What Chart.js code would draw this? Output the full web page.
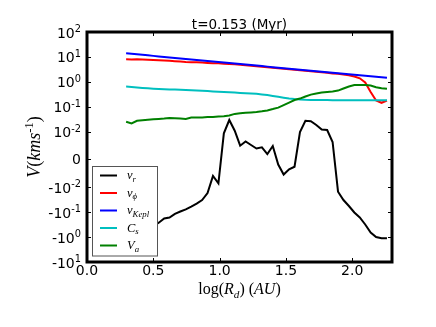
<!DOCTYPE html>
<html>
<head>
<meta charset="utf-8">
<script src="https://cdn.jsdelivr.net/npm/chart.js@4"></script>
<style>
  body { margin: 0; background: #fff; }
</style>
</head>
<body>
<canvas id="chart" width="436" height="327"></canvas>
<script>
// log10(R_d) in AU
var radius = [0.295,0.336,0.377,0.418,0.459,0.500,0.541,0.582,0.622,0.663,0.704,0.745,0.786,0.827,0.868,0.909,0.950,0.991,1.032,1.073,1.114,1.155,1.196,1.237,1.278,1.319,1.360,1.401,1.442,1.483,1.524,1.565,1.606,1.647,1.688,1.729,1.770,1.811,1.852,1.893,1.934,1.975,2.016,2.057,2.098,2.139,2.180,2.221,2.262];

var vR = [-0.754,-0.627,-0.571,-0.434,-0.395,-0.361,-0.265,-0.180,-0.164,-0.117,-0.0944,-0.0771,-0.0596,-0.0452,-0.0327,-0.0171,-0.00597,-0.0086,0.00944,0.0296,0.0110,0.00497,0.00648,0.00522,0.00396,0.00439,0.00197,0.00486,-0.00182,-0.00543,-0.00355,-0.00261,0.00991,0.0275,0.0263,0.0187,0.0123,0.0118,0.0063,-0.0152,-0.0327,-0.0569,-0.1035,-0.164,-0.313,-0.656,-0.995,-1.12,-1.12];

var vPhi = [8.03,7.94,8.01,7.93,7.77,7.62,7.41,7.19,7.00,6.79,6.54,6.30,6.18,6.06,5.94,5.77,5.61,5.55,5.39,5.23,5.04,4.90,4.67,4.47,4.26,4.06,3.87,3.69,3.52,3.36,3.21,3.06,2.91,2.78,2.66,2.54,2.41,2.30,2.19,2.10,1.96,1.84,1.63,1.39,0.944,0.393,0.179,0.145,0.179];

var vKepl = [13.96,13.32,12.71,12.12,11.56,11.03,10.52,10.03,9.57,9.13,8.71,8.31,7.93,7.56,7.21,6.88,6.56,6.26,5.97,5.69,5.43,5.18,4.94,4.72,4.50,4.29,4.09,3.90,3.72,3.55,3.39,3.23,3.08,2.94,2.81,2.68,2.55,2.43,2.32,2.22,2.11,2.02,1.92,1.83,1.75,1.67,1.59,1.52,1.45];

var cS = [0.647,0.624,0.601,0.574,0.552,0.532,0.518,0.508,0.499,0.490,0.481,0.472,0.459,0.451,0.439,0.427,0.415,0.404,0.393,0.382,0.372,0.361,0.352,0.342,0.333,0.315,0.295,0.274,0.252,0.232,0.216,0.204,0.197,0.191,0.188,0.187,0.186,0.186,0.185,0.185,0.185,0.184,0.184,0.184,0.184,0.185,0.185,0.185,0.185];

var vA = [0.0251,0.0214,0.0275,0.0288,0.0302,0.0319,0.0328,0.0340,0.0356,0.0347,0.0337,0.0328,0.0370,0.0373,0.0377,0.0387,0.0394,0.0406,0.0421,0.0453,0.0520,0.0550,0.0581,0.0597,0.0619,0.0661,0.0718,0.0811,0.0931,0.117,0.148,0.188,0.214,0.259,0.309,0.342,0.372,0.393,0.415,0.447,0.543,0.653,0.750,0.750,0.750,0.710,0.612,0.553,0.528];

var seriesNames = ['v_r', 'v_ϕ', 'v_Kepl', 'C_s', 'V_a'];
var seriesColors = ['#000000', '#ff0000', '#0000ff', '#00bfbf', '#008000'];
var xTicks = [0, 0.5, 1.0, 1.5, 2.0];
var yTicks = [100, 10, 1, 0.1, 0.01, 0, -0.01, -0.1, -1, -10];
var titleText = 't=0.153 (Myr)';

// symlog transform (linthresh 0.01, linscale 1 like matplotlib)
var LT = 0.01, LS = 1 / (1 - 0.1);
function fwd(v) {
  var a = Math.abs(v);
  return a <= LT ? v / LT * LS : Math.sign(v) * (LS + Math.log10(a / LT));
}
function inv(t) {
  var a = Math.abs(t);
  return a <= LS ? t / LS * LT : Math.sign(t) * LT * Math.pow(10, a - LS);
}

class SymlogScale extends Chart.Scale {
  static id = 'symlog';
  static defaults = {};
  parse(raw) {
    var v = +raw;
    return Number.isFinite(v) ? v : null;
  }
  determineDataLimits() {
    var mm = this.getMinMax(true);
    this.min = this.options.min ?? mm.min;
    this.max = this.options.max ?? mm.max;
  }
  buildTicks() {
    return yTicks.map(function (v) { return { value: v }; });
  }
  configure() {
    super.configure();
    this._t0 = fwd(this.min);
    this._tr = fwd(this.max) - this._t0;
  }
  getLabelForValue(v) { return String(v); }
  getPixelForValue(v) {
    return this.getPixelForDecimal((fwd(v) - this._t0) / this._tr);
  }
  getValueForPixel(p) {
    return inv(this.getDecimalForPixel(p) * this._tr + this._t0);
  }
}
Chart.register(SymlogScale);

// draw text made of runs: [text, style] with style '', 'i', 'sub', 'isub', 'sup'
function richText(ctx, runs, x, y, size, family, align) {
  var parts = runs.map(function (r) {
    var st = r[1] || '';
    var small = st.indexOf('sub') >= 0 || st === 'sup';
    var sz = small ? size * 0.7 : size;
    var font = (st.indexOf('i') === 0 ? 'italic ' : '') + sz + 'px ' + family;
    ctx.font = font;
    var dy = st.indexOf('sub') >= 0 ? size * 0.22 : (st === 'sup' ? -size * 0.4 : 0);
    return { t: r[0], font: font, dy: dy, w: ctx.measureText(r[0]).width };
  });
  var total = parts.reduce(function (s, p) { return s + p.w; }, 0);
  var cx = align === 'center' ? x - total / 2 : (align === 'right' ? x - total : x);
  ctx.textAlign = 'left';
  ctx.textBaseline = 'alphabetic';
  parts.forEach(function (p) {
    ctx.font = p.font;
    ctx.fillText(p.t, cx, y + p.dy);
    cx += p.w;
  });
}

function nameRuns(name) {
  var s = name.split('_');
  return [[s[0], 'i'], [s[1], 'isub']];
}

var decor = {
  id: 'decor',
  afterDraw: function (chart) {
    var ctx = chart.ctx, a = chart.chartArea;
    var xs = chart.scales.x, ys = chart.scales.y;
    ctx.save();
    ctx.fillStyle = '#000';
    ctx.strokeStyle = '#000';

    // title
    ctx.font = '13.5px "DejaVu Sans"';
    ctx.textAlign = 'center';
    ctx.textBaseline = 'alphabetic';
    ctx.fillText(titleText, (a.left + a.right) / 2, 29);

    // ticks (inward, all four sides)
    ctx.lineWidth = 1;
    ctx.beginPath();
    yTicks.forEach(function (v) {
      var py = Math.round(ys.getPixelForValue(v)) + 0.5;
      ctx.moveTo(a.left, py); ctx.lineTo(a.left + 4, py);
      ctx.moveTo(a.right, py); ctx.lineTo(a.right - 4, py);
    });
    xTicks.forEach(function (v) {
      var px = Math.round(xs.getPixelForValue(v)) + 0.5;
      ctx.moveTo(px, a.bottom); ctx.lineTo(px, a.bottom - 4);
      ctx.moveTo(px, a.top); ctx.lineTo(px, a.top + 4);
    });
    ctx.stroke();

    // y tick labels
    yTicks.forEach(function (v) {
      var py = ys.getPixelForValue(v);
      if (v === 0) {
        richText(ctx, [['0', '']], 81, py + 5, 14, '"DejaVu Sans"', 'right');
      } else {
        var e = Math.round(Math.log10(Math.abs(v)));
        richText(ctx, [[(v < 0 ? '-' : '') + '10', ''], [String(e), 'sup']], 81, py + 5.5, 14, '"DejaVu Sans"', 'right');
      }
    });

    // x tick labels
    xTicks.forEach(function (v) {
      richText(ctx, [[v.toFixed(1), '']], xs.getPixelForValue(v), 275, 14, '"DejaVu Sans"', 'center');
    });

    // axis titles
    richText(ctx, [['log(', ''], ['R', 'i'], ['d', 'isub'], [') (', ''], ['AU', 'i'], [')', '']],
      (a.left + a.right) / 2, 294, 16, '"Liberation Serif"', 'center');
    ctx.save();
    ctx.translate(40, (a.top + a.bottom) / 2);
    ctx.rotate(-Math.PI / 2);
    richText(ctx, [['V', 'i'], ['(', ''], ['kms', 'i'], ['-1', 'sup'], [')', '']], 0, 0, 18, '"Liberation Serif"', 'center');
    ctx.restore();

    // legend
    var lx = 92.5, ly = 166.5, lw = 65, lh = 89.5;
    ctx.fillStyle = '#fff';
    ctx.fillRect(lx, ly, lw, lh);
    ctx.strokeStyle = '#555';
    ctx.lineWidth = 1;
    ctx.strokeRect(lx, ly, lw, lh);
    chart.data.datasets.forEach(function (ds, i) {
      var cy = 175.5 + i * 17.5;
      ctx.strokeStyle = ds.borderColor;
      ctx.lineWidth = 2;
      ctx.beginPath();
      ctx.moveTo(100, cy); ctx.lineTo(117, cy);
      ctx.stroke();
      ctx.fillStyle = '#000';
      richText(ctx, nameRuns(ds.label), 127, cy + 3.5, 12.5, '"Liberation Serif"', 'left');
    });

    // frame
    ctx.strokeStyle = '#000';
    ctx.lineWidth = 3;
    ctx.strokeRect(a.left, a.top, a.right - a.left, a.bottom - a.top);
    ctx.restore();
  }
};

var series = [vR, vPhi, vKepl, cS, vA];

var ctx = document.getElementById('chart');
var chartGraph = new Chart(ctx, {
  type: 'line',
  data: {
    datasets: series.map(function (vals, i) {
      return {
        label: seriesNames[i],
        data: radius.map(function (r, j) { return { x: r, y: vals[j] }; }),
        borderColor: seriesColors[i],
        backgroundColor: 'transparent',
        borderWidth: 2,
        pointRadius: 0,
        tension: 0,
        order: series.length - i
      };
    })
  },
  options: {
    responsive: false,
    animation: false,
    devicePixelRatio: 1,
    layout: { padding: { top: 32, right: 44, left: 0, bottom: 0 } },
    plugins: { legend: { display: false }, title: { display: false }, tooltip: { enabled: false } },
    scales: {
      x: {
        type: 'linear', min: 0, max: 2.3,
        grid: { display: false }, border: { display: false },
        ticks: { display: false },
        afterFit: function (s) { s.height = 65; }
      },
      y: {
        type: 'symlog', min: -10, max: 100,
        grid: { display: false }, border: { display: false },
        ticks: { display: false },
        afterFit: function (s) { s.width = 87; }
      }
    }
  },
  plugins: [decor]
});
</script>
</body>
</html>
